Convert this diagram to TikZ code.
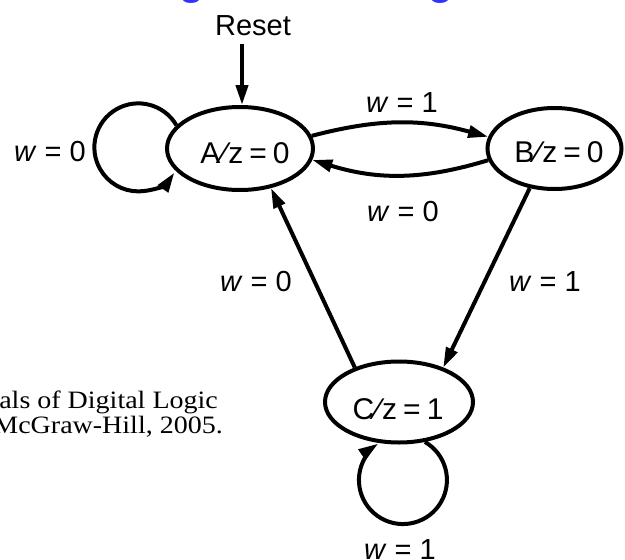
\documentclass[tikz,border=0pt]{standalone}
\usepackage{fontspec}
\setmainfont{Liberation Sans}
\newfontfamily\citefont[FakeStretch=1.12]{Liberation Serif}
\usetikzlibrary{arrows.meta,shapes.geometric}
\definecolor{titleblue}{RGB}{51,51,255}
\tikzset{
  state/.style={ellipse, draw, line width=4pt, inner sep=0pt},
  lbl/.style={font=\fontsize{29}{31}\selectfont, inner sep=0pt},
  stl/.style={font=\fontsize{30}{32}\selectfont, inner sep=0pt},
  citetext/.style={font=\citefont\fontsize{25}{27}\selectfont, inner sep=0pt, anchor=base east},
  titleg/.style={text=titleblue, font=\fontsize{48}{50}\selectfont, inner sep=0pt, anchor=base},
  arr/.style={line width=4pt, -{Triangle[length=20pt,width=12pt]}},
}
\newcommand{\stlabel}[2]{#1\kern1.5pt⁄\kern1.5pt z\kern6pt=\kern6pt#2}
\begin{document}
\begin{tikzpicture}[x=1pt,y=1pt]
\path[use as bounding box, fill=white] (0,0) rectangle (625,-560);
\clip (0,0) rectangle (625,-560);
% cropped title (only descenders visible)
\node[titleg] (g1) at (192,7) {g};
\node[titleg] (g2) at (441,7) {g};
% cropped citation
\node[citetext] (cite1) at (218,-408) {als of Digital Logic};
\node[citetext] (cite2) at (223,-433) {McGraw-Hill, 2005.};
% states
\node[state, minimum width=146pt, minimum height=83pt] (A) at (240,-148.5) {};
\node[state, minimum width=134pt, minimum height=81pt] (B) at (554.5,-148.5) {};
\node[state, minimum width=148pt, minimum height=81pt] (C) at (399,-402) {};
\node[stl] (At) at (245,-153) {\stlabel{A}{0}};
\node[stl] (Bt) at (559,-152) {\stlabel{B}{0}};
\node[stl] (Ct) at (398,-409) {\stlabel{C}{1}};
% reset
\node[lbl] (reset) at (253,-26) {Reset};
\coordinate (rs) at (242,-44);
\draw[arr] (rs) -- (rs |- A.north);
% transitions
\draw[arr] (A.10) to[bend left=15] (B.170);
\draw[arr] (B.190) to[bend left=17] (A.-9);
\draw[arr] (B.-122) -- (C.38);
\draw[arr] (C.142) -- (A.-52);
\draw[arr] (A.160) arc[start angle=30, end angle=325, radius=44pt];
\draw[arr] (C.-57) arc[start angle=60, end angle=-236, radius=44pt];
% labels
\node[lbl] (l1) at (50,-152) {\textit{w} = 0};
\node[lbl] (l2) at (402,-103) {\textit{w} = 1};
\node[lbl] (l3) at (403,-212) {\textit{w} = 0};
\node[lbl] (l4) at (256,-282) {\textit{w} = 0};
\node[lbl] (l5) at (545,-282) {\textit{w} = 1};
\node[lbl] (l6) at (400,-550) {\textit{w} = 1};
\end{tikzpicture}
\end{document}
